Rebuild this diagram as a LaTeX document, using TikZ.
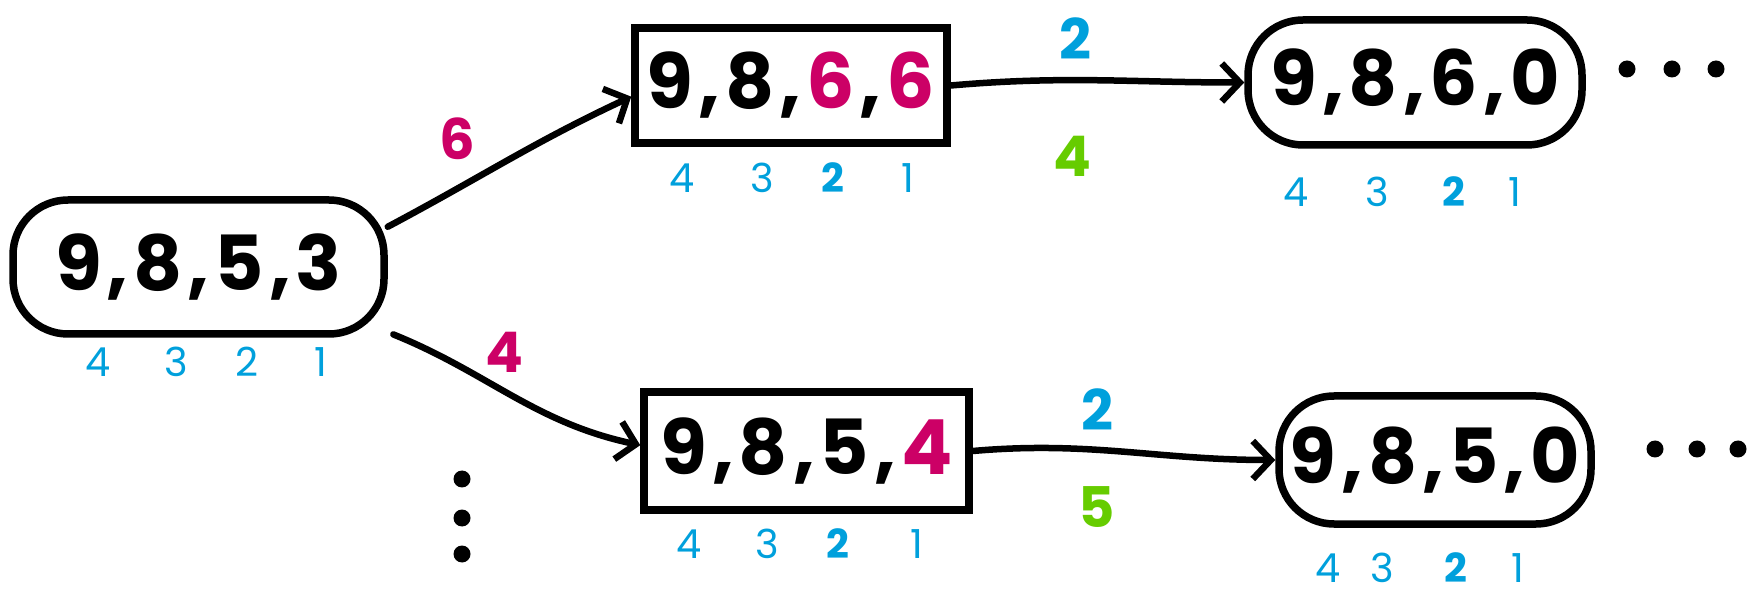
\documentclass[tikz,border=0pt]{standalone}
\usepackage{fontspec}
\setmainfont{Poppins}
\usetikzlibrary{arrows.meta}
\definecolor{mag}{HTML}{CC0066}
\definecolor{cy}{HTML}{00A0DC}
\definecolor{grn}{HTML}{66CC00}
\newcommand{\cm}{\kern5pt,\kern5pt}
\begin{document}
\begin{tikzpicture}[x=1pt,y=1pt,
  val/.style={font=\fontsize{76}{76}\selectfont\bfseries},
  roundst/.style={draw, line width=7.5pt, rounded corners=55pt, inner sep=0pt, val},
  boxst/.style={draw, line width=7.5pt, inner sep=0pt, val},
  idx/.style={text=cy, font=\fontsize{40}{40}\selectfont},
  bidx/.style={text=cy, font=\fontsize{40}{40}\selectfont\bfseries},
  lab/.style={font=\fontsize{56}{56}\selectfont\bfseries},
  arr/.style={line width=6.5pt, line cap=round, -{Straight Barb[length=18pt,width=38pt,line width=6.5pt]}},
  dot/.style={fill=black}]
\useasboundingbox (0,0) rectangle (1747,597);
% nodes
\node[roundst, minimum width=371pt, minimum height=134pt] (A) at (198.5,330) {9\cm8\cm5\cm3};
\node[boxst, minimum width=312pt, minimum height=115pt] (B) at (791,511.5) {9\cm8\cm\textcolor{mag}{6}\cm\textcolor{mag}{6}};
\node[roundst, minimum width=334pt, minimum height=125pt] (C) at (1415,514.5) {9\cm8\cm6\cm0};
\node[boxst, minimum width=325pt, minimum height=118pt] (D) at (806.5,146) {9\cm8\cm5\cm\textcolor{mag}{4}};
\node[roundst, minimum width=312pt, minimum height=128pt] (E) at (1435,137) {9\cm8\cm5\cm0};
% indices
\foreach \x/\t [count=\i] in {98/4,176/3,247/2,321/1} \node[idx] (ia\i) at (\x,235) {\t};
\foreach \x/\t [count=\i] in {682/4,762/3,908/1} \node[idx] (ib\i) at (\x,419) {\t};
\node[bidx] (ibb) at (833,419) {2};
\foreach \x/\t [count=\i] in {1296/4,1377/3,1515/1} \node[idx] (ic\i) at (\x,405) {\t};
\node[bidx] (icb) at (1454,405) {2};
\foreach \x/\t [count=\i] in {689/4,767/3,917/1} \node[idx] (id\i) at (\x,53) {\t};
\node[bidx] (idb) at (838,53) {2};
\foreach \x/\t [count=\i] in {1328/4,1382/3,1518/1} \node[idx] (ie\i) at (\x,29) {\t};
\node[bidx] (ieb) at (1456,29) {2};
% arrows
\draw[arr] (A.12) to[out=28,in=205] (B.184);
\draw[arr, shorten <=6pt] (A.-19) to[out=-22,in=168] (D.178);
\draw[arr] (B.east) to[out=5,in=180] (C.west);
\draw[arr] (D.east) to[out=5,in=180] (E.west);
% labels
\node[lab, text=mag] (l1) at (457,458) {6};
\node[lab, text=mag] (l2) at (504,245) {4};
\node[lab, text=cy] (l3) at (1075,558) {2};
\node[lab, text=grn] (l4) at (1072,441) {4};
\node[lab, text=cy] (l5) at (1097,187) {2};
\node[lab, text=grn] (l6) at (1097,90) {5};
% dots
\foreach \x in {1627,1672,1716} \fill[dot] (\x,528) circle (8.5pt);
\foreach \x in {1655,1697,1738} \fill[dot] (\x,148) circle (8.5pt);
\foreach \y in {118,79,43} \fill[dot] (462,\y) circle (8.5pt);
\end{tikzpicture}
\end{document}
